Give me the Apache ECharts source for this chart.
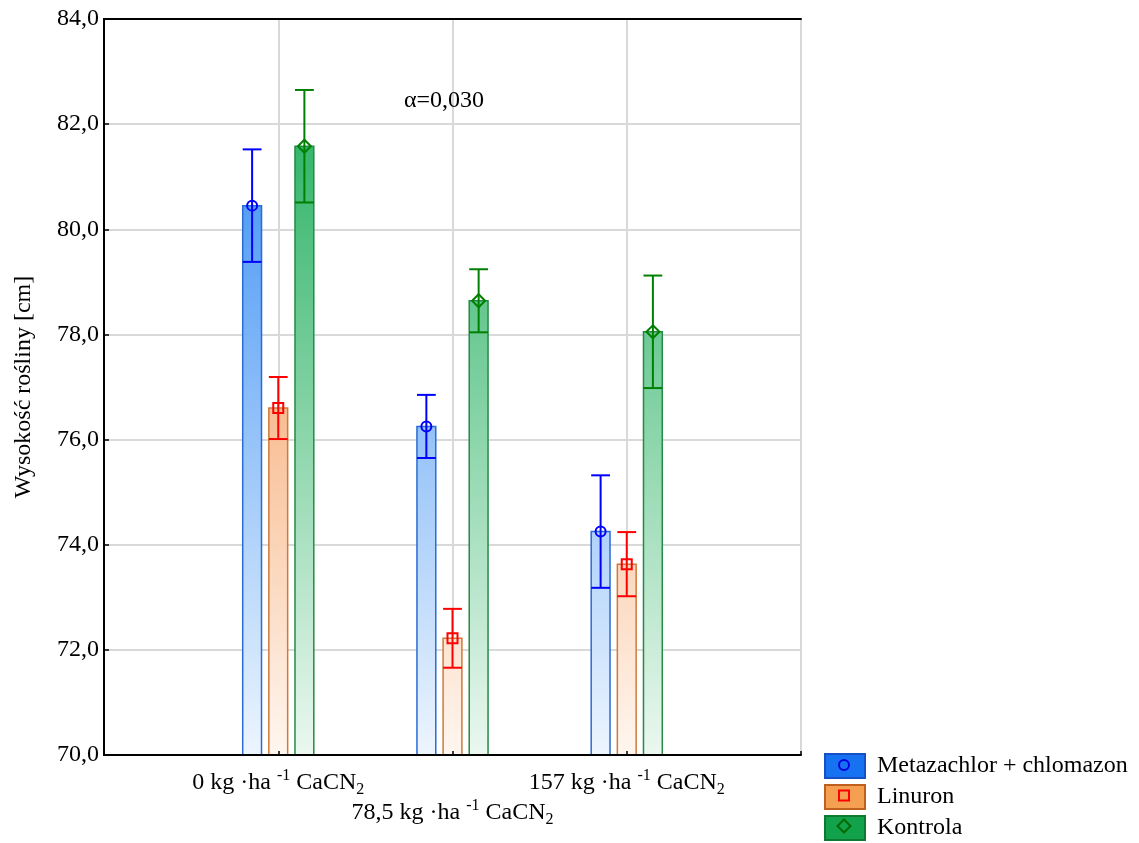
<!DOCTYPE html>
<html><head><meta charset="utf-8">
<script src="https://cdn.jsdelivr.net/npm/echarts@6/dist/echarts.min.js"></script>
<style>html,body{margin:0;padding:0;background:#fff}#c{width:1139px;height:843px}</style>
</head><body><div id="c"></div>
<script>
// ---- data ----
const categories = ['0', '78,5', '157'];
const seriesNames = ['Metazachlor + chlomazon', 'Linuron', 'Kontrola'];
const metMeans = [80.45, 76.25, 74.25];
const metErr   = [1.07, 0.60, 1.07];
const linMeans = [76.60, 72.22, 73.63];
const linErr   = [0.59, 0.56, 0.61];
const konMeans = [81.58, 78.64, 78.05];
const konErr   = [1.07, 0.60, 1.07];
const yMin = 70, yMax = 84, yStep = 2;
const alphaText = 'α=0,030';
const yName = 'Wysokość rośliny [cm]';

// ---- styles ----
const FONT = '"Liberation Serif", "Times New Roman", serif';
const BAR_W = 0.108, OFFSETS = [-0.15, 0, 0.15];
const sty = [
  {means: metMeans, err: metErr, top: '#2281f2', bot: '#edf5fe', border: '#2a6cd4', ec: '#0000ff', marker: 'circle', legend: '#1672f0', legendBorder: '#1550c8', legendMarker: '#0000e0'},
  {means: linMeans, err: linErr, top: '#f07e2c', bot: '#fff6ef', border: '#cf7a3c', ec: '#ff0000', marker: 'square', legend: '#f5a050', legendBorder: '#c0601e', legendMarker: '#ff0000'},
  {means: konMeans, err: konErr, top: '#0fa850', bot: '#ebf8f0', border: '#268a46', ec: '#008000', marker: 'diamond', legend: '#12a24c', legendBorder: '#0e7a30', legendMarker: '#006a00'}
];

function markerShape(kind, x, y, color) {
  const st = {fill: 'none', stroke: color, lineWidth: 2};
  if (kind === 'circle') return {type: 'circle', shape: {cx: x, cy: y, r: 5}, style: st, z2: 20};
  if (kind === 'square') return {type: 'rect', shape: {x: x - 5, y: y - 5, width: 10, height: 10}, style: st, z2: 20};
  return {type: 'polygon', shape: {points: [[x, y - 6.5], [x + 6.5, y], [x, y + 6.5], [x - 6.5, y]]}, style: st, z2: 20};
}

function makeSeries(si) {
  const s = sty[si];
  return {
    type: 'custom', name: seriesNames[si], xAxisIndex: 0, yAxisIndex: 0, clip: false,
    itemStyle: {color: s.legend},
    encode: {x: 0, y: 1},
    data: categories.map((c, i) => [i + 1, s.means[i], s.err[i]]),
    renderItem: function (params, api) {
      const x = api.value(0) + OFFSETS[si], m = api.value(1), e = api.value(2);
      const p = api.coord([x, m]);
      const base = api.coord([x, yMin]);
      const hi = api.coord([x, m + e]);
      const lo = api.coord([x, m - e]);
      const yT = api.coord([x, yMax])[1];
      const w = api.size([BAR_W, 0])[0];
      const cap = w / 2;
      const grad = new echarts.graphic.LinearGradient(0, yT, 0, base[1],
        [{offset: 0, color: s.top}, {offset: 1, color: s.bot}], true);
      const ls = {stroke: s.ec, lineWidth: 2};
      return {type: 'group', children: [
        {type: 'rect', shape: {x: p[0] - w / 2, y: p[1], width: w, height: base[1] - p[1]},
         style: {fill: grad, stroke: s.border, lineWidth: 1.5}},
        {type: 'line', shape: {x1: p[0], y1: hi[1], x2: p[0], y2: lo[1]}, style: ls, z2: 10},
        {type: 'line', shape: {x1: p[0] - cap, y1: hi[1], x2: p[0] + cap, y2: hi[1]}, style: ls, z2: 10},
        {type: 'line', shape: {x1: p[0] - cap, y1: lo[1], x2: p[0] + cap, y2: lo[1]}, style: ls, z2: 10},
        markerShape(s.marker, p[0], p[1], s.ec)
      ]};
    }
  };
}

const chart = echarts.init(document.getElementById('c'), null, {renderer: 'canvas'});

const LEG_LEFT = 824, LEG_TOP = 753, LEG_W = 40, LEG_H = 24, LEG_GAP = 5, LEG_PITCH = 30.5;
const legendMarks = sty.map((s, i) => Object.assign(
  markerShape(s.marker, LEG_LEFT + LEG_W / 2, LEG_TOP + LEG_H / 2 + i * LEG_PITCH, s.legendMarker),
  {z: 100}));

const fmtY = v => v.toFixed(1).replace('.', ',');
const fmtX = v => {
  const i = Math.round(v) - 1;
  if (i < 0 || i >= categories.length) return '';
  const t = '{n|' + categories[i] + ' kg ·ha }{sup|-1}{n| CaCN}{sub|2}';
  return i === 1 ? '{n|\u00a0}\n' + t : t;
};

chart.setOption({
  animation: false,
  backgroundColor: '#fff',
  textStyle: {fontFamily: FONT},
  grid: {left: 104, right: 338, top: 19, bottom: 88, containLabel: false, outerBoundsMode: 'none'},
  legend: {
    orient: 'vertical', left: LEG_LEFT, top: LEG_TOP, height: 100, padding: 0,
    itemWidth: LEG_W, itemHeight: LEG_H, itemGap: LEG_GAP,
    icon: 'rect', selectedMode: false,
    textStyle: {fontFamily: FONT, fontSize: 24, lineHeight: 24, color: '#000', padding: [0, 0, 0, 7]},
    data: seriesNames.map((n, i) => ({name: n, itemStyle: {color: sty[i].legend, borderColor: sty[i].legendBorder, borderWidth: 2}}))
  },
  graphic: [
    {type: 'text', x: 404, y: 101, z: 100, style: {text: alphaText, font: '24px ' + FONT, fill: '#000', verticalAlign: 'middle'}}
  ].concat(legendMarks),
  xAxis: [
    {type: 'value', min: 0, max: 4, interval: 1, position: 'bottom', z: 10,
     axisLine: {show: true, lineStyle: {color: '#000', width: 2}},
     axisTick: {show: true, inside: true, length: 4, lineStyle: {color: '#000', width: 1.5}},
     splitLine: {show: false},
     axisLabel: {show: true, margin: 13, formatter: fmtX, lineHeight: 30,
       rich: {
         n: {fontFamily: FONT, fontSize: 24, color: '#000', lineHeight: 30},
         sup: {fontFamily: FONT, fontSize: 16, color: '#000', verticalAlign: 'top', lineHeight: 20},
         sub: {fontFamily: FONT, fontSize: 16, color: '#000', verticalAlign: 'bottom', lineHeight: 22}
       }}},
    {type: 'value', min: 0, max: 4, interval: 1, position: 'top', z: 0,
     axisLine: {show: true, lineStyle: {color: '#000', width: 2}},
     axisTick: {show: false}, axisLabel: {show: false},
     splitLine: {show: true, lineStyle: {color: '#d9d9d9', width: 2}}}
  ],
  yAxis: [
    {type: 'value', min: yMin, max: yMax, interval: yStep, position: 'left', z: 10,
     name: yName, nameLocation: 'middle', nameGap: 68, nameRotate: 90,
     nameTextStyle: {fontFamily: FONT, fontSize: 24, color: '#000'},
     axisLine: {show: true, lineStyle: {color: '#000', width: 2}},
     axisTick: {show: true, inside: true, length: 5, lineStyle: {color: '#000', width: 1.5}},
     splitLine: {show: false},
     axisLabel: {formatter: fmtY, fontFamily: FONT, fontSize: 24, color: '#000', margin: 5}},
    {type: 'value', min: yMin, max: yMax, interval: yStep, position: 'right', z: 0,
     axisLine: {show: true, lineStyle: {color: '#000', width: 2}},
     axisTick: {show: false}, axisLabel: {show: false},
     splitLine: {show: true, lineStyle: {color: '#d9d9d9', width: 2}}}
  ],
  series: [makeSeries(0), makeSeries(1), makeSeries(2)]
});
</script>
</body></html>
